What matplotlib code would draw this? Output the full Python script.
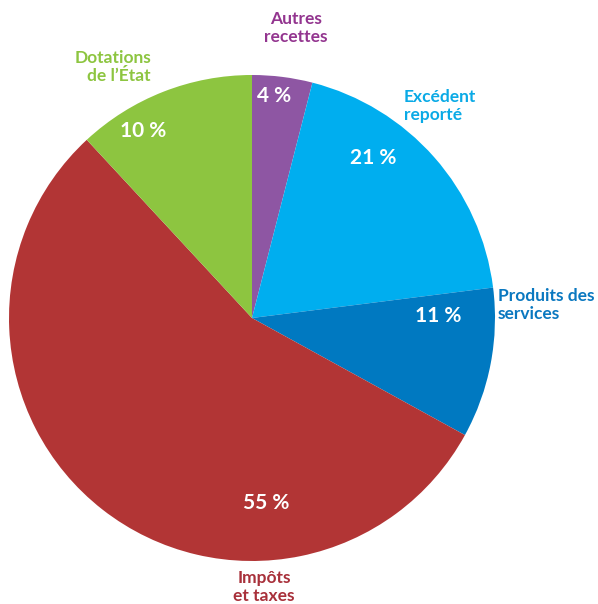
import matplotlib.pyplot as plt

# wedge shares as drawn (clockwise from the top)
categories = ['Autres recettes', 'Excédent reporté', 'Produits des services',
              'Impôts et taxes', "Dotations de l'État"]
shares = [4.0, 19.0, 10.0, 55.1, 11.9]
pct_labels = ['4 %', '21 %', '11 %', '55 %', '10 %']
names = ['Autres\nrecettes', 'Excédent\nreporté', 'Produits des\nservices',
         'Impôts\net taxes', 'Dotations\nde l\u2019État']
wedge_colors = ['#8E56A3', '#00AEEF', '#0079C1', '#B23535', '#8DC540']
text_colors = ['#93358F', '#0AAAE6', '#0A78C0', '#A8303A', '#8DC540']

W, H = 598, 604
fig = plt.figure(figsize=(W / 100, H / 100), dpi=100)
ax = fig.add_axes([0, 0, 1, 1])

# pie drawn in pixel-like coordinates (y measured from the bottom)
cx, cy, r = 252, H - 318, 243
ax.pie(shares, colors=wedge_colors, startangle=90, counterclock=False,
       center=(cx, cy), radius=r, frame=True,
       wedgeprops={'linewidth': 0})
ax.set_xlim(0, W)
ax.set_ylim(0, H)
ax.set_aspect('equal')
ax.axis('off')

font = 'Lato'

# percentage labels inside the wedges (pixel positions from top-left)
pct_pos = [(274, 96), (373, 158), (438, 316), (266, 503), (143, 131)]
for (px, py), t in zip(pct_pos, pct_labels):
    ax.text(px, H - py, t, color='white', fontsize=15, fontweight='bold',
            family=font, ha='center', va='center')

# category names outside the pie
name_pos = [(296, 28, 'center'), (404, 106, 'left'), (498, 305, 'left'),
            (264, 587, 'center'), (151, 67, 'right')]
for (px, py, ha), t, c in zip(name_pos, names, text_colors):
    ax.text(px, H - py, t, color=c, fontsize=12.5, fontweight='bold',
            family=font, ha=ha, va='center', linespacing=1.15,
            multialignment=ha)

fig.savefig('out.png', dpi=100)
